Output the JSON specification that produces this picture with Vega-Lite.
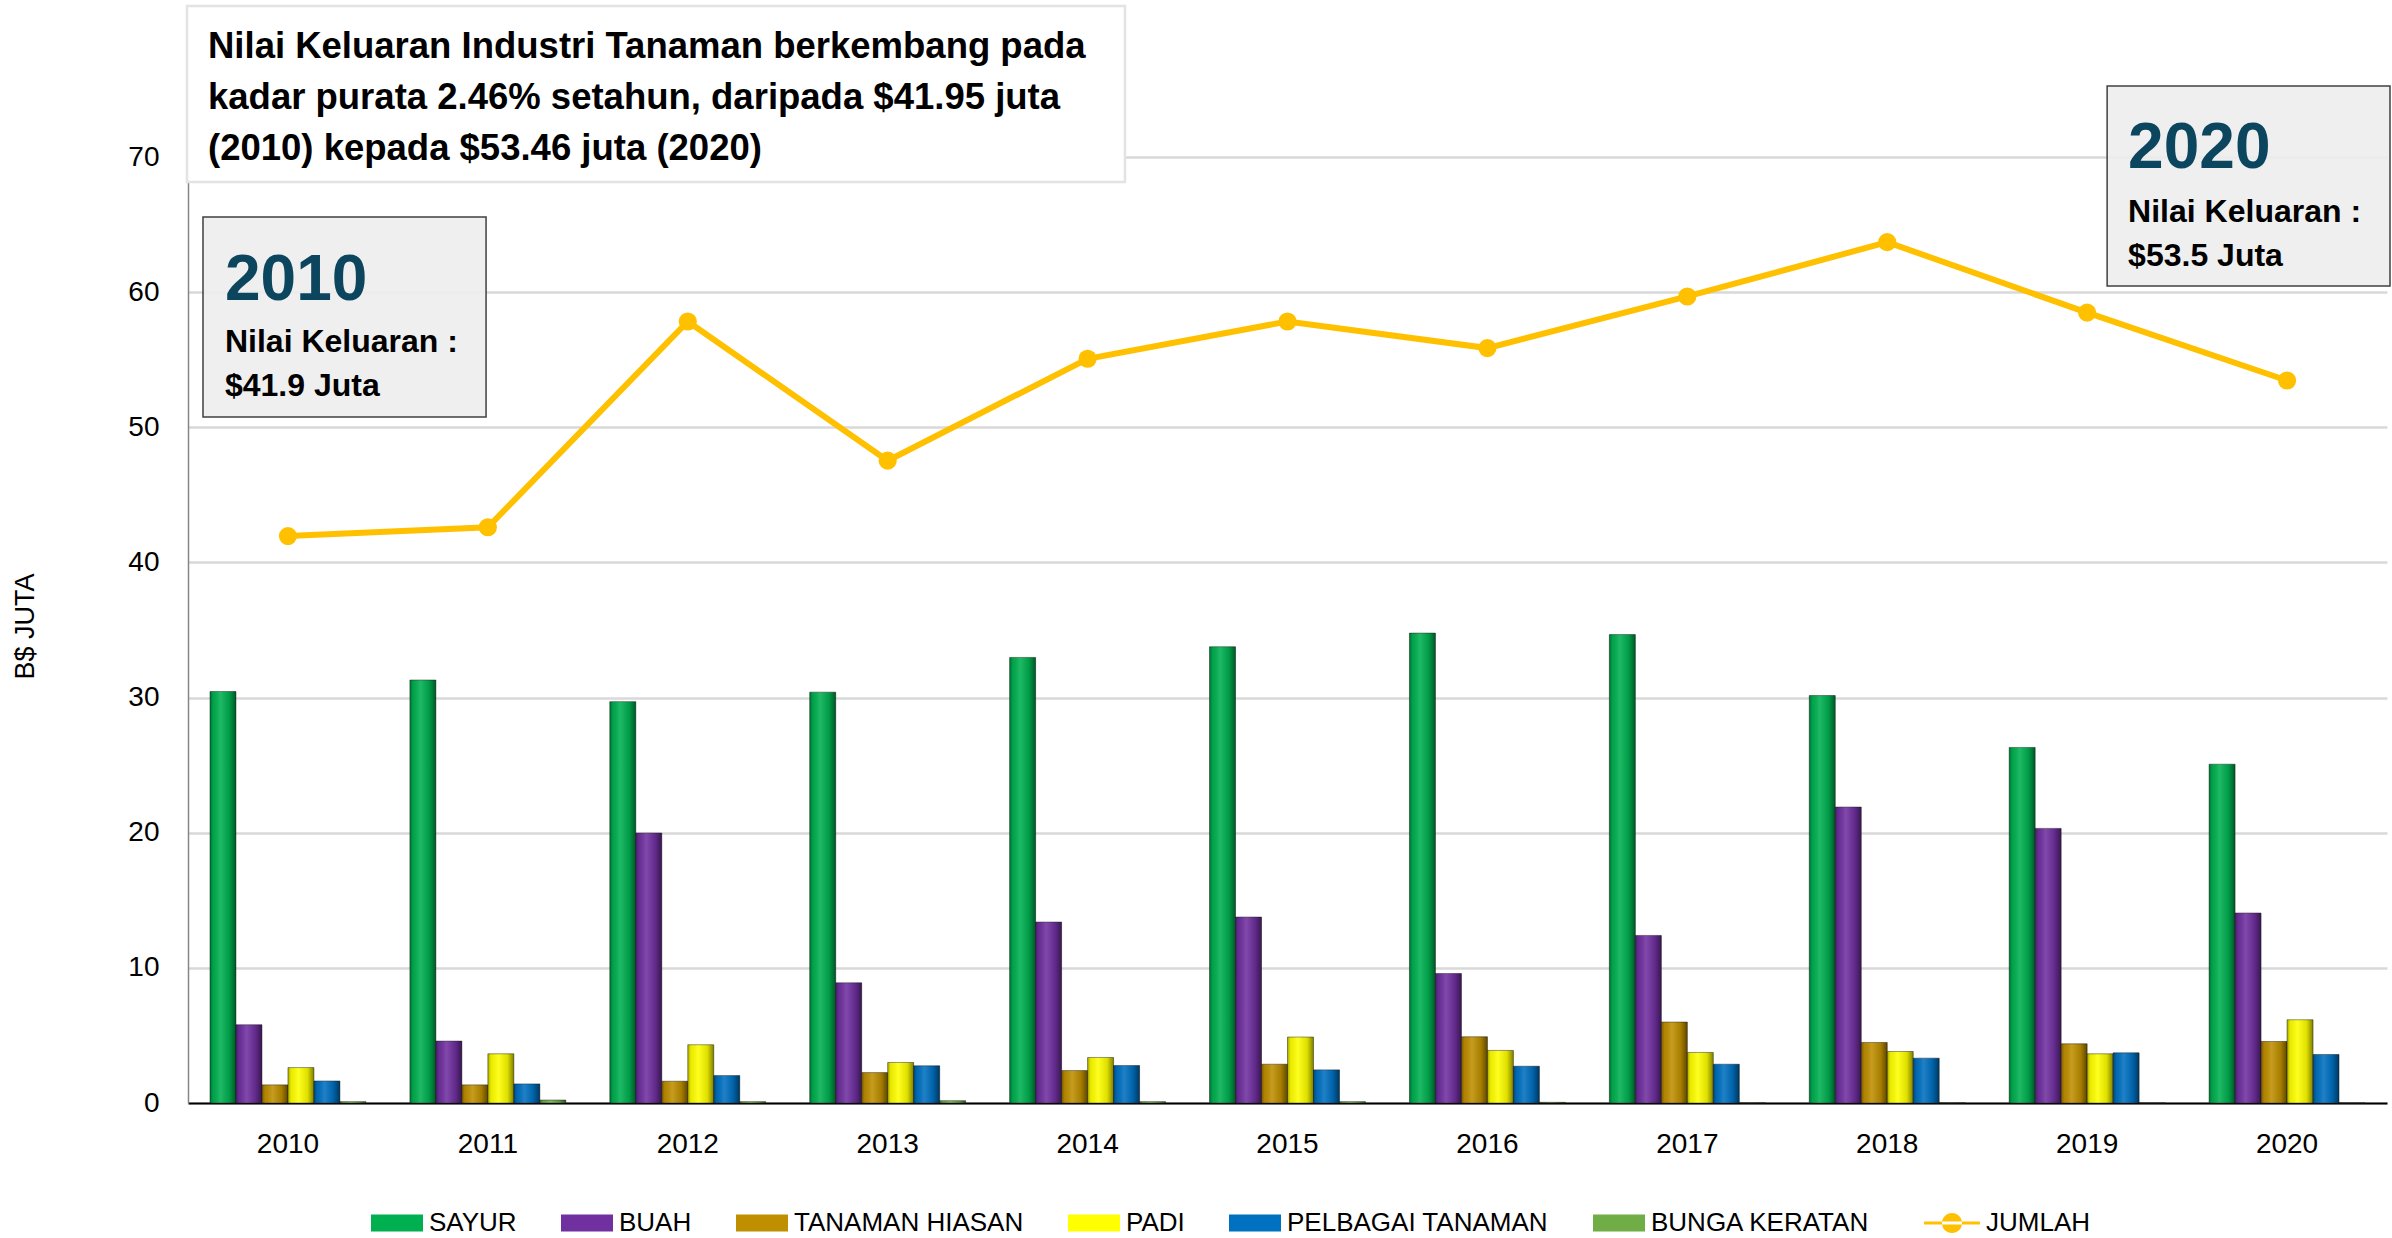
{
  "$schema": "https://vega.github.io/schema/vega-lite/v6.json",
  "width": 2199,
  "height": 946,
  "autosize": {"type": "none"},
  "padding": {"left": 188, "top": 157, "right": 5, "bottom": 135},
  "background": "white",
  "config": {"view": {"stroke": null}, "font": "Liberation Sans"},
  "datasets": {
    "bars": [
      {"Tahun": "2010", "Kategori": "SAYUR", "Nilai": 30.45},
      {"Tahun": "2010", "Kategori": "BUAH", "Nilai": 5.79},
      {"Tahun": "2010", "Kategori": "TANAMAN HIASAN", "Nilai": 1.34},
      {"Tahun": "2010", "Kategori": "PADI", "Nilai": 2.62},
      {"Tahun": "2010", "Kategori": "PELBAGAI TANAMAN", "Nilai": 1.63},
      {"Tahun": "2010", "Kategori": "BUNGA KERATAN", "Nilai": 0.1},
      {"Tahun": "2011", "Kategori": "SAYUR", "Nilai": 31.3},
      {"Tahun": "2011", "Kategori": "BUAH", "Nilai": 4.58},
      {"Tahun": "2011", "Kategori": "TANAMAN HIASAN", "Nilai": 1.34},
      {"Tahun": "2011", "Kategori": "PADI", "Nilai": 3.64},
      {"Tahun": "2011", "Kategori": "PELBAGAI TANAMAN", "Nilai": 1.41},
      {"Tahun": "2011", "Kategori": "BUNGA KERATAN", "Nilai": 0.22},
      {"Tahun": "2012", "Kategori": "SAYUR", "Nilai": 29.7},
      {"Tahun": "2012", "Kategori": "BUAH", "Nilai": 19.98},
      {"Tahun": "2012", "Kategori": "TANAMAN HIASAN", "Nilai": 1.61},
      {"Tahun": "2012", "Kategori": "PADI", "Nilai": 4.31},
      {"Tahun": "2012", "Kategori": "PELBAGAI TANAMAN", "Nilai": 2.03},
      {"Tahun": "2012", "Kategori": "BUNGA KERATAN", "Nilai": 0.1},
      {"Tahun": "2013", "Kategori": "SAYUR", "Nilai": 30.4},
      {"Tahun": "2013", "Kategori": "BUAH", "Nilai": 8.89},
      {"Tahun": "2013", "Kategori": "TANAMAN HIASAN", "Nilai": 2.25},
      {"Tahun": "2013", "Kategori": "PADI", "Nilai": 3.0},
      {"Tahun": "2013", "Kategori": "PELBAGAI TANAMAN", "Nilai": 2.75},
      {"Tahun": "2013", "Kategori": "BUNGA KERATAN", "Nilai": 0.17},
      {"Tahun": "2014", "Kategori": "SAYUR", "Nilai": 32.97},
      {"Tahun": "2014", "Kategori": "BUAH", "Nilai": 13.39},
      {"Tahun": "2014", "Kategori": "TANAMAN HIASAN", "Nilai": 2.4},
      {"Tahun": "2014", "Kategori": "PADI", "Nilai": 3.37},
      {"Tahun": "2014", "Kategori": "PELBAGAI TANAMAN", "Nilai": 2.77},
      {"Tahun": "2014", "Kategori": "BUNGA KERATAN", "Nilai": 0.1},
      {"Tahun": "2015", "Kategori": "SAYUR", "Nilai": 33.76},
      {"Tahun": "2015", "Kategori": "BUAH", "Nilai": 13.76},
      {"Tahun": "2015", "Kategori": "TANAMAN HIASAN", "Nilai": 2.87},
      {"Tahun": "2015", "Kategori": "PADI", "Nilai": 4.88},
      {"Tahun": "2015", "Kategori": "PELBAGAI TANAMAN", "Nilai": 2.45},
      {"Tahun": "2015", "Kategori": "BUNGA KERATAN", "Nilai": 0.1},
      {"Tahun": "2016", "Kategori": "SAYUR", "Nilai": 34.77},
      {"Tahun": "2016", "Kategori": "BUAH", "Nilai": 9.58},
      {"Tahun": "2016", "Kategori": "TANAMAN HIASAN", "Nilai": 4.9},
      {"Tahun": "2016", "Kategori": "PADI", "Nilai": 3.89},
      {"Tahun": "2016", "Kategori": "PELBAGAI TANAMAN", "Nilai": 2.72},
      {"Tahun": "2016", "Kategori": "BUNGA KERATAN", "Nilai": 0.05},
      {"Tahun": "2017", "Kategori": "SAYUR", "Nilai": 34.66},
      {"Tahun": "2017", "Kategori": "BUAH", "Nilai": 12.4},
      {"Tahun": "2017", "Kategori": "TANAMAN HIASAN", "Nilai": 5.99},
      {"Tahun": "2017", "Kategori": "PADI", "Nilai": 3.74},
      {"Tahun": "2017", "Kategori": "PELBAGAI TANAMAN", "Nilai": 2.87},
      {"Tahun": "2017", "Kategori": "BUNGA KERATAN", "Nilai": 0.02},
      {"Tahun": "2018", "Kategori": "SAYUR", "Nilai": 30.15},
      {"Tahun": "2018", "Kategori": "BUAH", "Nilai": 21.9},
      {"Tahun": "2018", "Kategori": "TANAMAN HIASAN", "Nilai": 4.48},
      {"Tahun": "2018", "Kategori": "PADI", "Nilai": 3.81},
      {"Tahun": "2018", "Kategori": "PELBAGAI TANAMAN", "Nilai": 3.32},
      {"Tahun": "2018", "Kategori": "BUNGA KERATAN", "Nilai": 0.02},
      {"Tahun": "2019", "Kategori": "SAYUR", "Nilai": 26.31},
      {"Tahun": "2019", "Kategori": "BUAH", "Nilai": 20.32},
      {"Tahun": "2019", "Kategori": "TANAMAN HIASAN", "Nilai": 4.38},
      {"Tahun": "2019", "Kategori": "PADI", "Nilai": 3.64},
      {"Tahun": "2019", "Kategori": "PELBAGAI TANAMAN", "Nilai": 3.71},
      {"Tahun": "2019", "Kategori": "BUNGA KERATAN", "Nilai": 0.01},
      {"Tahun": "2020", "Kategori": "SAYUR", "Nilai": 25.07},
      {"Tahun": "2020", "Kategori": "BUAH", "Nilai": 14.06},
      {"Tahun": "2020", "Kategori": "TANAMAN HIASAN", "Nilai": 4.55},
      {"Tahun": "2020", "Kategori": "PADI", "Nilai": 6.16},
      {"Tahun": "2020", "Kategori": "PELBAGAI TANAMAN", "Nilai": 3.59},
      {"Tahun": "2020", "Kategori": "BUNGA KERATAN", "Nilai": 0.01}
    ],
    "jumlah": [
      {"Tahun": "2010", "Seri": "JUMLAH", "Nilai": 41.95},
      {"Tahun": "2011", "Seri": "JUMLAH", "Nilai": 42.6},
      {"Tahun": "2012", "Seri": "JUMLAH", "Nilai": 57.83},
      {"Tahun": "2013", "Seri": "JUMLAH", "Nilai": 47.53},
      {"Tahun": "2014", "Seri": "JUMLAH", "Nilai": 55.07},
      {"Tahun": "2015", "Seri": "JUMLAH", "Nilai": 57.83},
      {"Tahun": "2016", "Seri": "JUMLAH", "Nilai": 55.86},
      {"Tahun": "2017", "Seri": "JUMLAH", "Nilai": 59.68},
      {"Tahun": "2018", "Seri": "JUMLAH", "Nilai": 63.7},
      {"Tahun": "2019", "Seri": "JUMLAH", "Nilai": 58.48},
      {"Tahun": "2020", "Seri": "JUMLAH", "Nilai": 53.46}
    ]
  },
  "layer": [
    {
      "layer": [
        {
          "data": {"name": "bars"},
          "mark": {"type": "bar", "stroke": "#222222", "strokeWidth": 0.8, "strokeOpacity": 0.6},
          "encoding": {
            "x": {
              "field": "Tahun", "type": "nominal",
              "scale": {"paddingInner": 0.22, "paddingOuter": 0.11},
              "axis": {
                "title": null, "labelAngle": 0, "ticks": false, "grid": false,
                "labelFont": "Liberation Sans", "labelFontSize": 28, "labelColor": "black",
                "labelPadding": 27, "domainColor": "black", "domainWidth": 2
              }
            },
            "xOffset": {
              "field": "Kategori", "type": "nominal",
              "sort": ["SAYUR", "BUAH", "TANAMAN HIASAN", "PADI", "PELBAGAI TANAMAN", "BUNGA KERATAN"],
              "scale": {"paddingInner": 0, "paddingOuter": 0}
            },
            "y": {
              "field": "Nilai", "type": "quantitative",
              "scale": {"domain": [0, 70], "nice": false, "zero": true},
              "axis": {
                "values": [0, 10, 20, 30, 40, 50, 60, 70],
                "title": "B$ JUTA", "titleFont": "Liberation Sans", "titleFontSize": 27,
                "titleFontWeight": "normal", "titleColor": "black", "titleAngle": 270,
                "titleX": -163, "titleY": 469, "titleAlign": "center", "titleBaseline": "middle",
                "labelFont": "Liberation Sans", "labelFontSize": 28, "labelColor": "black",
                "labelPadding": 29, "ticks": false,
                "domainColor": "#868686", "domainWidth": 1.5,
                "grid": true, "gridColor": "#D9D9D9", "gridWidth": 2.5
              }
            },
            "fill": {
              "field": "Kategori", "type": "nominal",
              "scale": {
                "domain": ["SAYUR", "BUAH", "TANAMAN HIASAN", "PADI", "PELBAGAI TANAMAN", "BUNGA KERATAN"],
                "range": ["#00B050", "#7030A0", "#BF8F00", "#FFFF00", "#0070C0", "#70AD47"]
              },
              "legend": {
                "orient": "none", "legendX": 183, "legendY": 1040, "direction": "horizontal",
                "title": null,
                "symbolType": "M-1,-0.33H1V0.33H-1Z", "symbolSize": 2704,
                "symbolStrokeWidth": 0, "symbolOpacity": 1,
                "labelFont": "Liberation Sans", "labelFontSize": 26, "labelColor": "black",
                "labelOffset": 6, "columnPadding": 44, "labelLimit": 400
              }
            }
          }
        },
        {
          "data": {"name": "bars"},
          "mark": {
            "type": "bar",
            "fill": {
              "gradient": "linear", "x1": 0, "y1": 0, "x2": 1, "y2": 0,
              "stops": [
                {"offset": 0, "color": "rgba(0,0,0,0.35)"},
                {"offset": 0.12, "color": "rgba(0,0,0,0.08)"},
                {"offset": 0.4, "color": "rgba(255,255,255,0.12)"},
                {"offset": 0.75, "color": "rgba(0,0,0,0.12)"},
                {"offset": 1, "color": "rgba(0,0,0,0.5)"}
              ]
            }
          },
          "encoding": {
            "x": {"field": "Tahun", "type": "nominal"},
            "xOffset": {
              "field": "Kategori", "type": "nominal",
              "sort": ["SAYUR", "BUAH", "TANAMAN HIASAN", "PADI", "PELBAGAI TANAMAN", "BUNGA KERATAN"]
            },
            "y": {"field": "Nilai", "type": "quantitative"}
          }
        },
        {
          "data": {"name": "jumlah"},
          "mark": {"type": "line", "strokeWidth": 6},
          "encoding": {
            "x": {"field": "Tahun", "type": "nominal"},
            "y": {"field": "Nilai", "type": "quantitative"},
            "stroke": {
              "field": "Seri", "type": "nominal",
              "scale": {"domain": ["JUMLAH"], "range": ["#FFC000"]},
              "legend": {
                "orient": "none", "legendX": 1736, "legendY": 1038,
                "title": null,
                "symbolType": "M-1,-0.055H1V0.055H-1Z M-0.36,0A0.36,0.36 0 1 0 0.36,0A0.36,0.36 0 1 0 -0.36,0Z",
                "symbolSize": 3136, "symbolFillColor": "#FFC000", "symbolStrokeWidth": 0,
                "labelFont": "Liberation Sans", "labelFontSize": 26, "labelColor": "black",
                "labelOffset": 6,
                "encode": {"symbols": {"update": {"fill": {"value": "#FFC000"}, "strokeWidth": {"value": 0}}}}
              }
            }
          }
        },
        {
          "data": {"name": "jumlah"},
          "mark": {"type": "point", "filled": true, "size": 330, "color": "#FFC000", "opacity": 1},
          "encoding": {
            "x": {"field": "Tahun", "type": "nominal"},
            "y": {"field": "Nilai", "type": "quantitative"}
          }
        }
      ]
    },
    {
      "data": {"values": [{}]},
      "mark": {"type": "rect", "fill": "white", "stroke": "#E3E3E3", "strokeWidth": 2.5},
      "encoding": {
        "x": {"datum": -0.005, "type": "quantitative", "scale": {"domain": [0, 11]}, "axis": null},
        "x2": {"datum": 4.687},
        "y": {"datum": 81.17, "type": "quantitative"},
        "y2": {"datum": 68.15}
      }
    },
    {
      "data": {"values": [{}]},
      "mark": {
        "type": "text", "align": "left", "baseline": "alphabetic",
        "font": "Liberation Sans", "fontWeight": "bold", "fontSize": 36.5, "lineHeight": 51, "color": "black"
      },
      "encoding": {
        "x": {"datum": 0.1, "type": "quantitative", "scale": {"domain": [0, 11]}, "axis": null},
        "y": {"datum": 77.33, "type": "quantitative"},
        "text": {"value": ["Nilai Keluaran Industri Tanaman berkembang pada", "kadar purata 2.46% setahun, daripada $41.95 juta", "(2010) kepada $53.46 juta (2020)"]}
      }
    },
    {
      "data": {"values": [{}]},
      "mark": {"type": "rect", "fill": "#EDEDED", "fillOpacity": 0.9, "stroke": "#404040", "strokeWidth": 1.5},
      "encoding": {
        "x": {"datum": 0.075, "type": "quantitative", "scale": {"domain": [0, 11]}, "axis": null},
        "x2": {"datum": 1.491},
        "y": {"datum": 65.56, "type": "quantitative"},
        "y2": {"datum": 50.76}
      }
    },
    {
      "data": {"values": [{}]},
      "mark": {
        "type": "text", "align": "left", "baseline": "alphabetic",
        "font": "Liberation Sans", "fontWeight": "bold", "fontSize": 64, "color": "#0C455E"
      },
      "encoding": {
        "x": {"datum": 0.185, "type": "quantitative", "scale": {"domain": [0, 11]}, "axis": null},
        "y": {"datum": 59.42, "type": "quantitative"},
        "text": {"value": "2010"}
      }
    },
    {
      "data": {"values": [{}]},
      "mark": {
        "type": "text", "align": "left", "baseline": "alphabetic",
        "font": "Liberation Sans", "fontWeight": "bold", "fontSize": 32, "lineHeight": 44, "color": "black"
      },
      "encoding": {
        "x": {"datum": 0.185, "type": "quantitative", "scale": {"domain": [0, 11]}, "axis": null},
        "y": {"datum": 55.57, "type": "quantitative"},
        "text": {"value": ["Nilai Keluaran :", "$41.9 Juta"]}
      }
    },
    {
      "data": {"values": [{}]},
      "mark": {"type": "rect", "fill": "#EDEDED", "fillOpacity": 0.9, "stroke": "#404040", "strokeWidth": 1.5},
      "encoding": {
        "x": {"datum": 9.6, "type": "quantitative", "scale": {"domain": [0, 11]}, "axis": null},
        "x2": {"datum": 11.015},
        "y": {"datum": 75.25, "type": "quantitative"},
        "y2": {"datum": 60.45}
      }
    },
    {
      "data": {"values": [{}]},
      "mark": {
        "type": "text", "align": "left", "baseline": "alphabetic",
        "font": "Liberation Sans", "fontWeight": "bold", "fontSize": 64, "color": "#0C455E"
      },
      "encoding": {
        "x": {"datum": 9.705, "type": "quantitative", "scale": {"domain": [0, 11]}, "axis": null},
        "y": {"datum": 69.19, "type": "quantitative"},
        "text": {"value": "2020"}
      }
    },
    {
      "data": {"values": [{}]},
      "mark": {
        "type": "text", "align": "left", "baseline": "alphabetic",
        "font": "Liberation Sans", "fontWeight": "bold", "fontSize": 32, "lineHeight": 44, "color": "black"
      },
      "encoding": {
        "x": {"datum": 9.705, "type": "quantitative", "scale": {"domain": [0, 11]}, "axis": null},
        "y": {"datum": 65.19, "type": "quantitative"},
        "text": {"value": ["Nilai Keluaran :", "$53.5 Juta"]}
      }
    }
  ],
  "resolve": {"scale": {"x": "independent"}}
}
